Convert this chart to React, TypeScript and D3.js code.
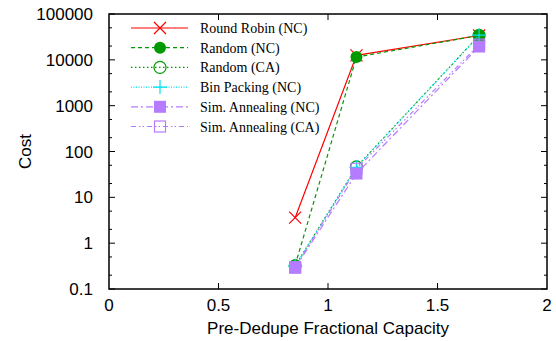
import { useRef, useEffect } from "react";
import * as d3 from "d3";

// x positions (pre-dedupe fractional capacity)
const capacities = [0.85, 1.13, 1.69];

const roundRobinNC = [3.6, 12500, 34000];
const randomNC = [0.33, 11500, 34000];
const randomCA = [0.32, 46, 34000];
const binPackingNC = [0.32, 45, 34500];
const simAnnealingNC = [0.29, 33, 19500];
const simAnnealingCA = [0.3, 42, 21500];

const xTicks = [0, 0.5, 1, 1.5, 2];
const yTicks = [0.1, 1, 10, 100, 1000, 10000, 100000];
const yTickLabels = ["0.1", "1", "10", "100", "1000", "10000", "100000"];

const series = [
  { name: "Round Robin (NC)", values: roundRobinNC, color: "#ff0000", dash: "", marker: "x" },
  { name: "Random (NC)", values: randomNC, color: "#009a00", dash: "4,3", marker: "circleFill" },
  { name: "Random (CA)", values: randomCA, color: "#009a00", dash: "1.5,2.5", marker: "circle" },
  { name: "Bin Packing (NC)", values: binPackingNC, color: "#00e0ee", dash: "1,1.5", marker: "plus" },
  { name: "Sim. Annealing (NC)", values: simAnnealingNC, color: "#b57cff", dash: "7,3,2,3", marker: "squareFill" },
  { name: "Sim. Annealing (CA)", values: simAnnealingCA, color: "#b57cff", dash: "5,3,1.5,2,1.5,3", marker: "square" },
];

const width = 556;
const height = 341;
const margin = { top: 14, right: 9, bottom: 52, left: 109 };

function drawMarker(g: any, kind: string, cx: number, cy: number, color: string) {
  if (kind === "x") {
    const s = 6;
    g.append("path")
      .attr("d", `M${cx - s},${cy - s}L${cx + s},${cy + s}M${cx - s},${cy + s}L${cx + s},${cy - s}`)
      .attr("stroke", color).attr("stroke-width", 1.2).attr("fill", "none");
  } else if (kind === "plus") {
    const s = 7;
    g.append("path")
      .attr("d", `M${cx - s},${cy}L${cx + s},${cy}M${cx},${cy - s}L${cx},${cy + s}`)
      .attr("stroke", color).attr("stroke-width", 1.2).attr("fill", "none");
  } else if (kind === "circleFill") {
    g.append("circle").attr("cx", cx).attr("cy", cy).attr("r", 6).attr("fill", color);
  } else if (kind === "circle") {
    g.append("circle").attr("cx", cx).attr("cy", cy).attr("r", 6)
      .attr("fill", "none").attr("stroke", color).attr("stroke-width", 1.2);
  } else if (kind === "squareFill") {
    g.append("rect").attr("x", cx - 6).attr("y", cy - 6).attr("width", 12).attr("height", 12).attr("fill", color);
  } else if (kind === "square") {
    g.append("rect").attr("x", cx - 5.5).attr("y", cy - 5.5).attr("width", 11).attr("height", 11)
      .attr("fill", "none").attr("stroke", color).attr("stroke-width", 1.2);
  }
}

const App = () => {
  const svgRef = useRef<SVGSVGElement>(null);

  useEffect(() => {
    const svg = d3.select(svgRef.current);
    svg.selectAll("*").remove();

    const x = d3.scaleLinear().domain([0, 2]).range([margin.left, width - margin.right]);
    const y = d3.scaleLog().domain([0.1, 100000]).range([height - margin.bottom, margin.top]);

    const font = "'Liberation Sans', Arial, sans-serif";

    // ticks
    const ticksG = svg.append("g").attr("stroke", "#000").attr("stroke-width", 1);
    xTicks.forEach((t) => {
      if (t === 0 || t === 2) return;
      ticksG.append("line").attr("x1", x(t)).attr("x2", x(t))
        .attr("y1", y(0.1)).attr("y2", y(0.1) - 6);
      ticksG.append("line").attr("x1", x(t)).attr("x2", x(t))
        .attr("y1", y(100000)).attr("y2", y(100000) + 6);
    });
    yTicks.forEach((t, i) => {
      const yy = y(t);
      ticksG.append("line").attr("x1", x(0)).attr("x2", x(0) + 6).attr("y1", yy).attr("y2", yy);
      ticksG.append("line").attr("x1", x(2)).attr("x2", x(2) - 6).attr("y1", yy).attr("y2", yy);
      if (i < yTicks.length - 1) {
        [2, 5].forEach((m) => {
          const ym = y(t * m);
          ticksG.append("line").attr("x1", x(0)).attr("x2", x(0) + 3).attr("y1", ym).attr("y2", ym);
          ticksG.append("line").attr("x1", x(2)).attr("x2", x(2) - 3).attr("y1", ym).attr("y2", ym);
        });
      }
    });

    // tick labels
    svg.append("g").selectAll("text").data(xTicks).enter().append("text")
      .attr("x", (d) => x(d)).attr("y", 311)
      .attr("text-anchor", "middle").attr("font-family", font).attr("font-size", 17)
      .text((d) => String(d));
    svg.append("g").selectAll("text").data(yTicks).enter().append("text")
      .attr("x", 93).attr("y", (d) => y(d) + 6)
      .attr("text-anchor", "end").attr("font-family", font).attr("font-size", 17)
      .text((d, i) => yTickLabels[i]);

    // axis titles
    svg.append("text").attr("x", x(1)).attr("y", 334)
      .attr("text-anchor", "middle").attr("font-family", font).attr("font-size", 17)
      .text("Pre-Dedupe Fractional Capacity");
    svg.append("text").attr("transform", `translate(31,${(margin.top + height - margin.bottom) / 2}) rotate(-90)`)
      .attr("text-anchor", "middle").attr("font-family", font).attr("font-size", 17)
      .text("Cost");

    // series
    const line = d3.line<number>().x((d, i) => x(capacities[i])).y((d) => y(d));
    series.forEach((s) => {
      const g = svg.append("g");
      g.append("path").datum(s.values).attr("d", line).attr("fill", "none")
        .attr("stroke", s.color).attr("stroke-width", 1.2)
        .attr("stroke-dasharray", s.dash || null);
      s.values.forEach((v, i) => drawMarker(g, s.marker, x(capacities[i]), y(v), s.color));
    });

    // legend
    const legend = svg.append("g");
    series.forEach((s, i) => {
      const ly = 28 + i * 19.7;
      legend.append("line").attr("x1", 131).attr("x2", 188).attr("y1", ly).attr("y2", ly)
        .attr("stroke", s.color).attr("stroke-width", 1.2)
        .attr("stroke-dasharray", s.dash || null);
      drawMarker(legend, s.marker, 160, ly, s.color);
      legend.append("text").attr("x", 200).attr("y", ly + 5)
        .attr("font-family", "'Liberation Serif', 'Times New Roman', serif").attr("font-size", 14)
        .text(s.name);
    });

    // frame
    svg.append("rect").attr("x", x(0)).attr("y", y(100000))
      .attr("width", x(2) - x(0)).attr("height", y(0.1) - y(100000))
      .attr("fill", "none").attr("stroke", "#000").attr("stroke-width", 1.5);
  }, []);

  return (
    <svg ref={svgRef} width={width} height={height}
      style={{ position: "fixed", left: 0, top: 0, background: "#fff" }} />
  );
};

export default App;
